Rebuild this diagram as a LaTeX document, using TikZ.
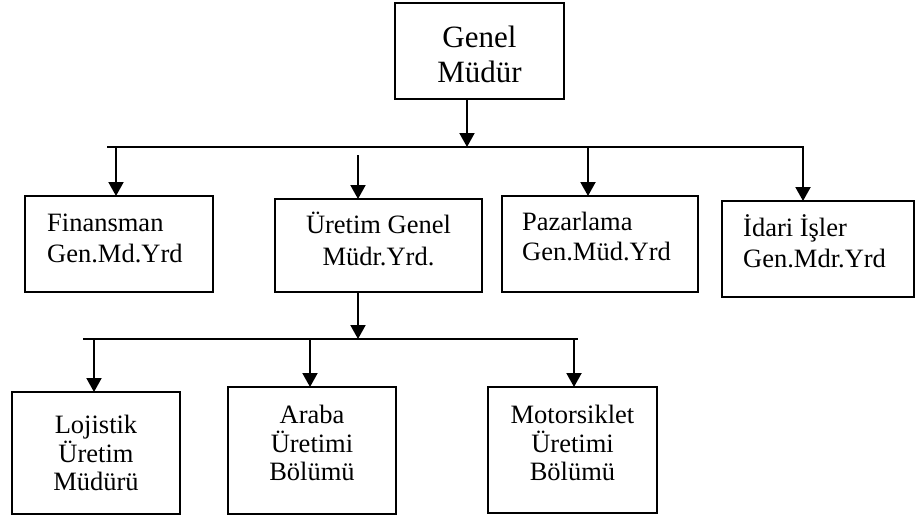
\documentclass[tikz,border=0pt]{standalone}
\usepackage{fontspec}
\setmainfont{Liberation Serif}
\usetikzlibrary{arrows.meta}
\begin{document}
\begin{tikzpicture}[x=1pt,y=-1pt,
  box/.style={draw, line width=2pt, inner sep=0pt, outer sep=0pt},
  conn/.style={line width=2pt, -{Triangle[width=15pt,length=14pt]}},
  bus/.style={line width=2pt},
  big/.style={inner sep=0pt, font=\fontsize{31}{35}\selectfont},
  txt/.style={inner sep=0pt, font=\fontsize{26.5}{31}\selectfont}]
\useasboundingbox (0,0) rectangle (918,520);
% boxes
\node[box, minimum width=169pt, minimum height=96pt] (gm)  at (479.5,51) {};
\node[box, minimum width=188pt, minimum height=96pt] (fin) at (119,244) {};
\node[box, minimum width=207pt, minimum height=93pt] (ure) at (378.5,245.5) {};
\node[box, minimum width=196pt, minimum height=96pt] (paz) at (600,244) {};
\node[box, minimum width=192pt, minimum height=96pt] (ida) at (818,249) {};
\node[box, minimum width=168pt, minimum height=122pt] (loj) at (96,453) {};
\node[box, minimum width=168pt, minimum height=127pt] (ara) at (312,450.5) {};
\node[box, minimum width=169pt, minimum height=126pt] (mot) at (572.5,450) {};
% texts
\node[big, anchor=base] (gmA) at (479.5,47) {Genel};
\node[big, anchor=base] (gmB) at (479.5,82) {Müdür};
\node[txt, anchor=base west] (finA) at (47,231) {Finansman};
\node[txt, anchor=base west] (finB) at (47,262) {Gen.Md.Yrd};
\node[txt, anchor=base] (ureA) at (378.5,233) {Üretim Genel};
\node[txt, anchor=base] (ureB) at (378.5,265) {Müdr.Yrd.};
\node[txt, anchor=base west] (pazA) at (522,230) {Pazarlama};
\node[txt, anchor=base west] (pazB) at (522,260) {Gen.Müd.Yrd};
\node[txt, anchor=base west] (idaA) at (743,236) {İdari İşler};
\node[txt, anchor=base west] (idaB) at (743,267) {Gen.Mdr.Yrd};
\node[txt, anchor=base] (lojA) at (96,433) {Lojistik};
\node[txt, anchor=base] (lojB) at (96,462) {Üretim};
\node[txt, anchor=base] (lojC) at (96,490) {Müdürü};
\node[txt, anchor=base] (araA) at (312,423) {Araba};
\node[txt, anchor=base] (araB) at (312,452) {Üretimi};
\node[txt, anchor=base] (araC) at (312,480) {Bölümü};
\node[txt, anchor=base] (motA) at (572.5,423) {Motorsiklet};
\node[txt, anchor=base] (motB) at (572.5,452) {Üretimi};
\node[txt, anchor=base] (motC) at (572.5,480) {Bölümü};
% connector points
\coordinate (j1) at (467,147);
\coordinate (b1L) at (107,147);
\coordinate (b1R) at (803,147);
\coordinate (pf) at (116,147);
\coordinate (pu) at (358,155);
\coordinate (pp) at (588,147);
\coordinate (j2) at (358,339);
\coordinate (b2L) at (83,339);
\coordinate (b2R) at (578,339);
\coordinate (pl) at (94,339);
\coordinate (pa) at (310,339);
\coordinate (pm) at (574,339);
% connectors
\draw[conn] (j1 |- gm.south) -- (j1);
\draw[conn] (b1L) -- (b1R) -- (b1R |- ida.north);
\draw[conn] (pf) -- (pf |- fin.north);
\draw[conn] (pu) -- (pu |- ure.north);
\draw[conn] (pp) -- (pp |- paz.north);
\draw[conn] (j2 |- ure.south) -- (j2);
\draw[bus] (b2L) -- (b2R);
\draw[conn] (pl) -- (pl |- loj.north);
\draw[conn] (pa) -- (pa |- ara.north);
\draw[conn] (pm) -- (pm |- mot.north);
\end{tikzpicture}
\end{document}
